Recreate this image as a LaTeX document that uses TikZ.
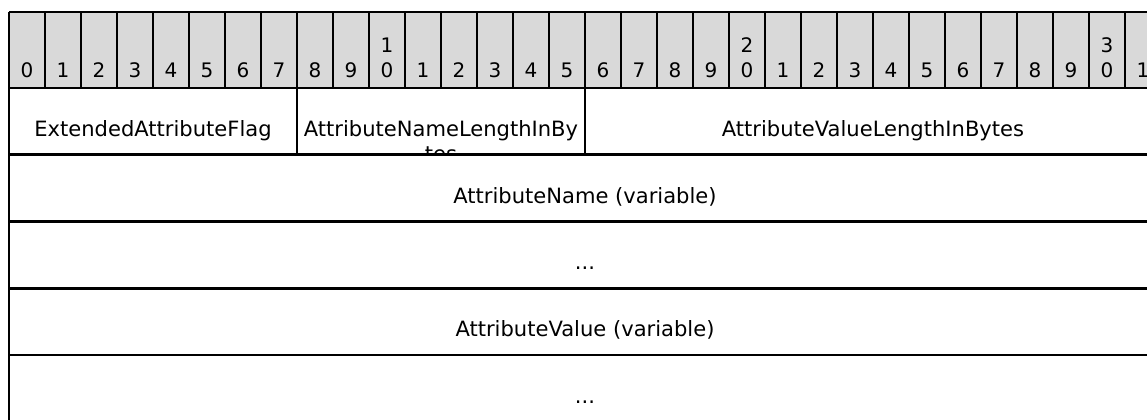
\documentclass[tikz,border=0pt]{standalone}
\usepackage{fontspec}
\setmainfont{DejaVu Sans}
\usepackage{tikz}
\definecolor{hdrgray}{RGB}{217,217,217}
\tikzstyle{bitnum} = [anchor=south, inner sep=0pt, align=center,
    font=\fontsize{15pt}{19pt}\selectfont]
\tikzstyle{fieldtext} = [anchor=base, inner sep=0pt,
    font=\fontsize{15.8pt}{19pt}\selectfont]
\tikzstyle{cellline} = [line width=1.5pt]
\tikzstyle{rowline} = [line width=2pt]

\begin{document}
\begin{tikzpicture}
\begin{scope}[x=0.75pt, y=-0.75pt]
    \useasboundingbox[fill=white] (0,0) rectangle (1147,419);
    %header
    \fill[hdrgray] (9,12) rectangle (1161,88);
    \foreach \x in {45,81,...,1125}
        \draw[cellline] (\x,12) -- (\x,88);
    \draw[rowline] (9,12) -- (1161,12);
    \draw[rowline] (9,88) -- (1161,88);
    %bit numbers
    \node[bitnum] (b0) at (27,78) {0};
    \node[bitnum] (b1) at (63,78) {1};
    \node[bitnum] (b2) at (99,78) {2};
    \node[bitnum] (b3) at (135,78) {3};
    \node[bitnum] (b4) at (171,78) {4};
    \node[bitnum] (b5) at (207,78) {5};
    \node[bitnum] (b6) at (243,78) {6};
    \node[bitnum] (b7) at (279,78) {7};
    \node[bitnum] (b8) at (315,78) {8};
    \node[bitnum] (b9) at (351,78) {9};
    \node[bitnum] (b10) at (387,78) {1\\0};
    \node[bitnum] (b11) at (423,78) {1};
    \node[bitnum] (b12) at (459,78) {2};
    \node[bitnum] (b13) at (495,78) {3};
    \node[bitnum] (b14) at (531,78) {4};
    \node[bitnum] (b15) at (567,78) {5};
    \node[bitnum] (b16) at (603,78) {6};
    \node[bitnum] (b17) at (639,78) {7};
    \node[bitnum] (b18) at (675,78) {8};
    \node[bitnum] (b19) at (711,78) {9};
    \node[bitnum] (b20) at (747,78) {2\\0};
    \node[bitnum] (b21) at (783,78) {1};
    \node[bitnum] (b22) at (819,78) {2};
    \node[bitnum] (b23) at (855,78) {3};
    \node[bitnum] (b24) at (891,78) {4};
    \node[bitnum] (b25) at (927,78) {5};
    \node[bitnum] (b26) at (963,78) {6};
    \node[bitnum] (b27) at (999,78) {7};
    \node[bitnum] (b28) at (1035,78) {8};
    \node[bitnum] (b29) at (1071,78) {9};
    \node[bitnum] (b30) at (1107,78) {3\\0};
    \node[bitnum] (b31) at (1143,78) {1};
    %rows
    \draw[rowline] (9,154.75) -- (1161,154.75);
    \draw[rowline] (9,221.5) -- (1161,221.5);
    \draw[rowline] (9,288.25) -- (1161,288.25);
    \draw[rowline] (9,355) -- (1161,355);
    \draw[cellline] (9,12) -- (9,430);
    \draw[cellline] (297,88) -- (297,154.75);
    \draw[cellline] (585,88) -- (585,154.75);
    %fields
    \node[fieldtext] (flag) at (153,136) {ExtendedAttributeFlag};
    \begin{scope}
        \clip (298,89) rectangle (584,154);
        \node[fieldtext, text width=280pt, align=center] (namelen) at (441,136)
            {AttributeNameLengthInBy\\tes};
    \end{scope}
    \node[fieldtext] (valuelen) at (873,136) {AttributeValueLengthInBytes};
    \node[fieldtext] (name) at (585,203) {AttributeName (variable)};
    \node[fieldtext] (namemore) at (585,269.5) {...};
    \node[fieldtext] (value) at (585,336.5) {AttributeValue (variable)};
    \node[fieldtext] (valuemore) at (585,403.5) {...};
\end{scope}
\end{tikzpicture}
\end{document}
